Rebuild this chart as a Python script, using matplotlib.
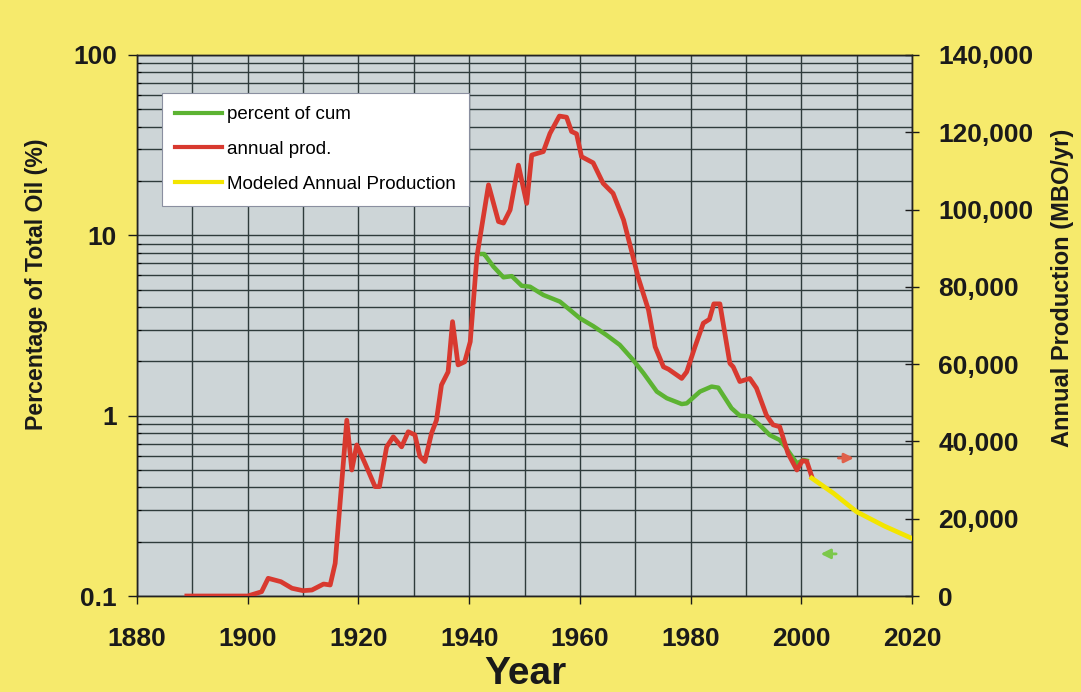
import matplotlib
matplotlib.use("Agg")
import matplotlib.pyplot as plt
from matplotlib.ticker import FixedLocator, LogLocator, NullFormatter, FuncFormatter

plt.rcParams['font.family'] = ['Liberation Sans', 'DejaVu Sans']

# ---- data ----
prod_years = [1889, 1900, 1902.5, 1903.7, 1906, 1908, 1910, 1911.6, 1913.7, 1914.9,
              1915.8, 1917.9, 1918.8, 1919.7, 1921.2, 1923, 1923.8, 1925.1, 1926.3,
              1927.8, 1929, 1930.2, 1931.1, 1932, 1933.2, 1934.1, 1935, 1936.2, 1937,
              1938, 1939.2, 1940.2, 1941.4, 1943.5, 1945.3, 1946.2, 1947.4, 1948.9,
              1950.4, 1951.3, 1953.4, 1954.6, 1956.3, 1957.6, 1958.5, 1959.4, 1960.3,
              1962.4, 1964.2, 1966, 1967.9, 1969.6, 1970.5, 1972.4, 1973.6, 1975.1,
              1976, 1978.4, 1979.3, 1980.8, 1982.3, 1983.4, 1984.2, 1985.3, 1987.1,
              1987.7, 1988.9, 1990.7, 1991.9, 1993.7, 1994.9, 1996.1, 1997.6, 1999.2,
              2000.2, 2001, 2001.9]
prod_values = [0, 0, 1100, 4580, 3700, 2000, 1380, 1550, 3100, 2850,
               8450, 45500, 32600, 39100, 34300, 28300, 28300, 38600, 41200,
               38600, 42500, 41700, 36100, 34800, 42100, 45500, 54600, 58000, 71000,
               59800, 60600, 65800, 87800, 106400, 96900, 96500, 99900, 111500,
               101600, 114100, 115000, 119700, 124200, 123900, 120200, 119600, 113700,
               112100, 106800, 104200, 97300, 87800, 82600, 74000, 64500, 59300,
               58700, 56300, 58000, 64500, 70600, 71600, 75600, 75600, 60200,
               59300, 55500, 56300, 53800, 46800, 44300, 43800, 36900, 32600,
               35000, 34800, 30900]

cum_years = [1942.3, 1942.7, 1944.4, 1946.2, 1947.7, 1949.5, 1951, 1953.4, 1956.4,
             1958.2, 1960, 1962.4, 1964.8, 1967.2, 1969.6, 1971.5, 1973.9, 1975.7,
             1978.4, 1979.3, 1981.7, 1983.8, 1985, 1987.4, 1988.9, 1990.7, 1992.5,
             1994.3, 1996.1, 1997.3, 1999.2, 2000.4, 2001]
cum_values = [7.88, 7.88, 6.70, 5.85, 5.94, 5.25, 5.19, 4.67, 4.29,
              3.86, 3.47, 3.14, 2.80, 2.47, 2.04, 1.72, 1.36, 1.25,
              1.16, 1.17, 1.36, 1.45, 1.43, 1.10, 1.00, 0.99, 0.887,
              0.781, 0.733, 0.659, 0.544, 0.568, 0.563]

model_years = [2001.9, 2005.8, 2010, 2015, 2020]
model_values = [30500, 26600, 21800, 18100, 14900]

x_ticks = [1880, 1900, 1920, 1940, 1960, 1980, 2000, 2020]
left_ticks = [0.1, 1, 10, 100]
left_ticklabels = ['0.1', '1', '10', '100']
right_ticks = [0, 20000, 40000, 60000, 80000, 100000, 120000, 140000]

labels = ['percent of cum', 'annual prod.', 'Modeled Annual Production']

# ---- styles ----
BG = '#F6EA6C'
PLOT_BG = '#CDD5D7'
GRID = '#2E3B3B'
RED = '#D8392F'
GREEN = '#5CB332'
YELLOW = '#F3E500'
TXT = '#1A1A1A'

fig = plt.figure(figsize=(10.81, 6.92), dpi=100, facecolor=BG)
ax = fig.add_axes([137/1081, 1-596/692, (912-137)/1081, (596-55)/692])
ax.set_facecolor(PLOT_BG)
ax.set_yscale('log')
ax.set_ylim(0.1, 100)
ax.set_xlim(1880, 2020)

ax2 = ax.twinx()
ax2.set_ylim(0, 140000)
ax2.set_xlim(1880, 2020)

# grid
ax.set_xticks(x_ticks)
ax.xaxis.set_minor_locator(FixedLocator(list(range(1880, 2021, 10))))
ax.set_yticks(left_ticks)
ax.set_yticklabels(left_ticklabels)
ax.yaxis.set_minor_locator(LogLocator(base=10, subs=range(2, 10)))
ax.yaxis.set_minor_formatter(NullFormatter())
ax.grid(True, which='both', axis='both', color=GRID, lw=1.0)
ax.set_axisbelow(True)

# lines
l1, = ax.plot(cum_years, cum_values, color=GREEN, lw=3.2, solid_joinstyle='round', zorder=3)
l2, = ax2.plot(prod_years, prod_values, color=RED, lw=3.4, solid_joinstyle='round', zorder=3)
l3, = ax2.plot(model_years, model_values, color=YELLOW, lw=3.4, zorder=3)

# arrows
ax2.annotate('', xy=(2010.0, 35700), xytext=(2006.2, 35700),
             arrowprops=dict(arrowstyle='-|>', color='#E0604A', lw=2, mutation_scale=14))
ax2.annotate('', xy=(2003.0, 10900), xytext=(2006.8, 10900),
             arrowprops=dict(arrowstyle='-|>', color='#7CC84A', lw=2, mutation_scale=14))

# ticks
FS = 19
ax.tick_params(axis='x', which='major', direction='out', length=6, width=1, pad=16,
               labelsize=FS, colors=TXT)
ax.tick_params(axis='x', which='minor', length=0)
ax.tick_params(axis='y', which='major', direction='out', length=6.5, width=1, pad=8,
               labelsize=FS, colors=TXT)
ax.tick_params(axis='y', which='minor', direction='in', length=3, width=0.8)
for lab in ax.get_xticklabels() + ax.get_yticklabels():
    lab.set_fontweight('bold')

ax2.set_yticks(right_ticks)
ax2.yaxis.set_major_formatter(FuncFormatter(lambda v, p: f'{int(v):,}'))
ax2.tick_params(axis='y', direction='inout', length=10, width=1, pad=14,
                labelsize=FS, colors=TXT)
for lab in ax2.get_yticklabels():
    lab.set_fontweight('bold')

for a in (ax, ax2):
    for s in a.spines.values():
        s.set_color('#222222')
        s.set_linewidth(1.0)

# labels
fig.text(37/1081, 1-284/692, 'Percentage of Total Oil (%)', rotation=90,
         ha='center', va='center', fontsize=16.7, fontweight='bold', color=TXT)
fig.text(1063/1081, 1-288/692, 'Annual Production (MBO/yr)', rotation=90,
         ha='center', va='center', fontsize=17, fontweight='bold', color=TXT)
fig.text(525/1081, 1-674/692, 'Year', ha='center', va='center',
         fontsize=28, fontweight='bold', color=TXT)

# legend
leg = ax2.legend([l1, l2, l3], labels, loc='upper left',
                 bbox_to_anchor=(0.032, 0.930), borderaxespad=0,
                 fancybox=False, framealpha=1, facecolor='white', edgecolor='#8A8FA0',
                 fontsize=13.5, handlelength=2.5, handletextpad=0.3, labelspacing=0.95,
                 borderpad=0.7)
leg.get_frame().set_linewidth(0.8)
for h in leg.get_lines():
    h.set_linewidth(3)

fig.savefig('out.png', dpi=100, facecolor=BG)
